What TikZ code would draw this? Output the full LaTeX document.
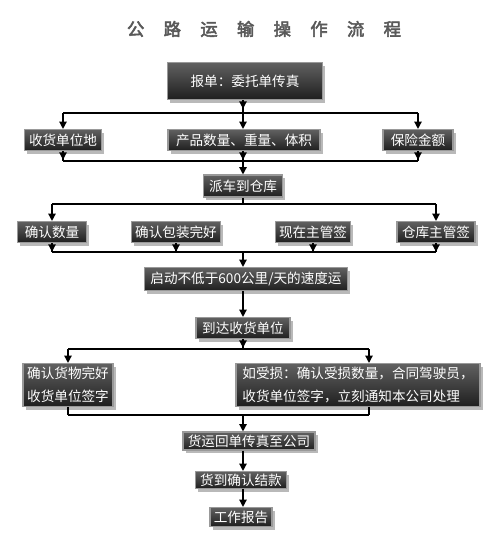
\documentclass[tikz,border=0pt]{standalone}
\usepackage{fontspec}
\newfontfamily\cjk{Noto Sans CJK SC}
\newfontfamily\cjkbold[FakeBold=3]{Noto Sans CJK SC}
\usetikzlibrary{arrows.meta,shadows,decorations.markings}

\tikzset{
  box/.style={draw=black!40, line width=0.8pt, top color=black!62, bottom color=black!88,
    text=white, font=\cjk\fontsize{10.2}{17}\selectfont, inner sep=0pt, align=left,
    drop shadow={shadow xshift=2.2pt, shadow yshift=-2.6pt, fill=black!50, opacity=0.55}},
  sz/.style 2 args={minimum width=#1*0.75pt, minimum height=#2*0.75pt},
  line/.style={line width=1pt, black},
  arr/.style={line, -{Triangle[length=5.5pt,width=5.5pt]}},
  tipstart/.style={line, postaction={decorate}, decoration={markings,
    mark=at position 6.5pt with {\arrow{Triangle[length=5.5pt,width=5.5pt]}}}},
  title/.style={font=\cjkbold\fontsize{13}{15}\selectfont, text=black!65}
}
\newcommand{\tsp}{\hspace{14.5pt}}

\begin{document}
\begin{tikzpicture}[x=0.75pt,y=-0.75pt]
  \useasboundingbox (0,0) rectangle (500,553);
  \node[title] (ttl) at (264,29) {公\tsp 路\tsp 运\tsp 输\tsp 操\tsp 作\tsp 流\tsp 程};

  % boxes
  \node[box, sz={155}{37}] (bao) at (245,81) {报单：委托单传真};
  \node[box, sz={77}{21}] (shou) at (63,140) {收货单位地};
  \node[box, sz={152}{21}] (chan) at (244,140) {产品数量、重量、体积};
  \node[box, sz={70}{21}] (bx) at (418,140) {保险金额};
  \node[box, sz={79}{22}] (pai) at (243,186) {派车到仓库};
  \node[box, sz={69}{21}] (q1) at (52,232) {确认数量};
  \node[box, sz={89}{21}] (q2) at (176,232) {确认包装完好};
  \node[box, sz={75}{21}] (xz) at (313,232) {现在主管签};
  \node[box, sz={78}{21}] (ck) at (436,232) {仓库主管签};
  \node[box, sz={203}{23}] (qd) at (246,279) {启动不低于600公里/天的速度运};
  \node[box, sz={94}{21}] (dd) at (243,328) {到达收货单位};
  \node[box, sz={90}{43}] (hl) at (68,385) {确认货物完好\\收货单位签字};
  \node[box, sz={244}{43}] (hr) at (358,385) {如受损：确认受损数量，合同驾驶员，\\收货单位签字，立刻通知本公司处理};
  \node[box, sz={132}{18}] (hy) at (249,441) {货运回单传真至公司};
  \node[box, sz={91}{17}] (hd) at (241,480) {货到确认结款};
  \node[box, sz={62}{19}] (gz) at (241,517) {工作报告};

  % bus points
  \coordinate (ax) at (243,0);
  \coordinate (rx) at (369,0);
  \coordinate (b1) at (243,113);
  \coordinate (b2) at (243,161);
  \coordinate (b3) at (243,204);
  \coordinate (b4) at (243,252);
  \coordinate (b5) at (243,349);
  \coordinate (b6) at (243,415);

  % first split
  \draw[tipstart] (bao.south -| b1) -- (b1);
  \draw[line] (shou |- b1) -- (bx |- b1);
  \draw[arr] (shou |- b1) -- (shou.north);
  \draw[arr] (b1) -- (b1 |- chan.north);
  \draw[arr] (bx |- b1) -- (bx.north);
  \foreach \n in {shou,bx}
    \draw[tipstart] (\n.south) -- (\n |- b2);
  \draw[tipstart] (b2 |- chan.south) -- (b2);
  \draw[line] (shou |- b2) -- (bx |- b2);
  \draw[arr] (b2) -- (b2 |- pai.north);

  % warehouse checks
  \draw[tipstart] (pai.south -| b3) -- (b3);
  \draw[line] (q1 |- b3) -- (ck |- b3);
  \draw[arr] (q1 |- b3) -- (q1.north);
  \draw[arr] (ck |- b3) -- (ck.north);
  \foreach \n in {q1,q2,xz,ck}
    \draw[tipstart] (\n.south) -- (\n |- b4);
  \draw[line] (q1 |- b4) -- (ck |- b4);
  \draw[arr] (b4) -- (b4 |- qd.north);
  \draw[arr] (ax |- qd.south) -- (ax |- dd.north);

  % arrival
  \draw[tipstart] (dd.south -| b5) -- (b5);
  \draw[line] (hl |- b5) -- (rx |- b5);
  \draw[arr] (hl |- b5) -- (hl.north);
  \draw[arr] (rx |- b5) -- (rx |- hr.north);
  \draw[tipstart] (hl.south) -- (hl |- b6);
  \draw[tipstart] (rx |- hr.south) -- (rx |- b6);
  \draw[line] (hl |- b6) -- (rx |- b6);
  \draw[arr] (b6) -- (b6 |- hy.north);
  \draw[arr] (ax |- hy.south) -- (ax |- hd.north);
  \draw[arr] (ax |- hd.south) -- (ax |- gz.north);
\end{tikzpicture}
\end{document}
